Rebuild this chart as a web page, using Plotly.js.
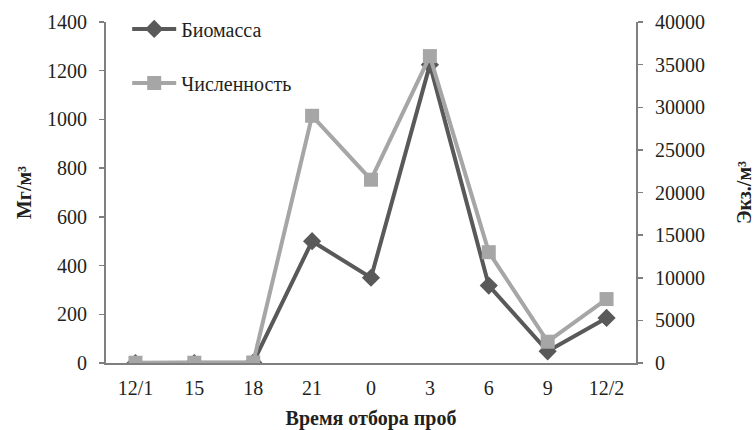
<!DOCTYPE html>
<html>
<head>
<meta charset="utf-8">
<script src="https://cdn.plot.ly/plotly-3.0.1.min.js"></script>
<style>html,body{margin:0;padding:0;background:#fff;}#chart{width:756px;height:430px;}</style>
</head>
<body>
<div id="chart"></div>
<script>
const categories = ["12/1", "15", "18", "21", "0", "3", "6", "9", "12/2"];
const biomass = [0, 0, 2, 500, 350, 1225, 318, 48, 185];
const abundance = [30, 30, 60, 29000, 21500, 36000, 13000, 2500, 7500];
const leftTicks = [0, 200, 400, 600, 800, 1000, 1200, 1400];
const rightTicks = [0, 5000, 10000, 15000, 20000, 25000, 30000, 35000, 40000];

const FONT = "Liberation Serif";
const DARK = "#595959";
const LIGHT = "#a6a6a6";
const AXIS = "#7f7f7f";
const TXT = "#231f20";

const traces = [
  {
    x: categories, y: biomass, name: "Биомасса", type: "scatter", mode: "lines+markers",
    yaxis: "y", legendgroup: "a",
    line: {color: DARK, width: 4},
    marker: {symbol: "diamond", size: 14, color: DARK}
  },
  {
    x: categories, y: abundance, name: "Численность", type: "scatter", mode: "lines+markers",
    yaxis: "y2", legendgroup: "b",
    line: {color: LIGHT, width: 4},
    marker: {symbol: "square", size: 14, color: LIGHT}
  }
];

const layout = {
  width: 756, height: 430,
  margin: {l: 106, r: 120, t: 22, b: 67, autoexpand: false},
  paper_bgcolor: "#fff", plot_bgcolor: "#fff",
  font: {family: FONT, size: 20, color: TXT},
  showlegend: true,
  legend: {
    x: 0.04, y: 1.037, xanchor: "left", yanchor: "top",
    bgcolor: "rgba(0,0,0,0)", tracegroupgap: 25, itemwidth: 44,
    font: {family: FONT, size: 20, color: TXT}
  },
  xaxis: {
    type: "category", range: [-0.5, 8.5],
    showline: true, linecolor: AXIS, linewidth: 2,
    showgrid: false, zeroline: false, ticks: "", ticklabelstandoff: 6,
    tickfont: {family: FONT, size: 20, color: TXT},
    title: {text: "Время отбора проб", font: {family: FONT, size: 20, weight: "bold", color: TXT}, standoff: 13}
  },
  yaxis: {
    range: [0, 1400], tickvals: leftTicks, tickformat: "d",
    showline: true, linecolor: AXIS, linewidth: 2,
    ticks: "outside", ticklen: 5, tickcolor: AXIS, tickwidth: 1.5, ticklabelstandoff: 8,
    showgrid: false, zeroline: false,
    tickfont: {family: FONT, size: 20, color: TXT},
    title: {text: "Мг/м³", font: {family: FONT, size: 20, weight: "bold", color: TXT}, standoff: 10}
  },
  yaxis2: {
    overlaying: "y", side: "right",
    range: [0, 40000], tickvals: rightTicks, tickformat: "d",
    showline: true, linecolor: AXIS, linewidth: 2,
    ticks: "outside", ticklen: 5, tickcolor: AXIS, tickwidth: 1.5, ticklabelstandoff: 8,
    showgrid: false, zeroline: false,
    tickfont: {family: FONT, size: 20, color: TXT},
    title: {text: "Экз./м³", font: {family: FONT, size: 20, weight: "bold", color: TXT}, standoff: 33}
  }
};

Plotly.newPlot("chart", traces, layout, {displayModeBar: false, staticPlot: true});
</script>
</body>
</html>
